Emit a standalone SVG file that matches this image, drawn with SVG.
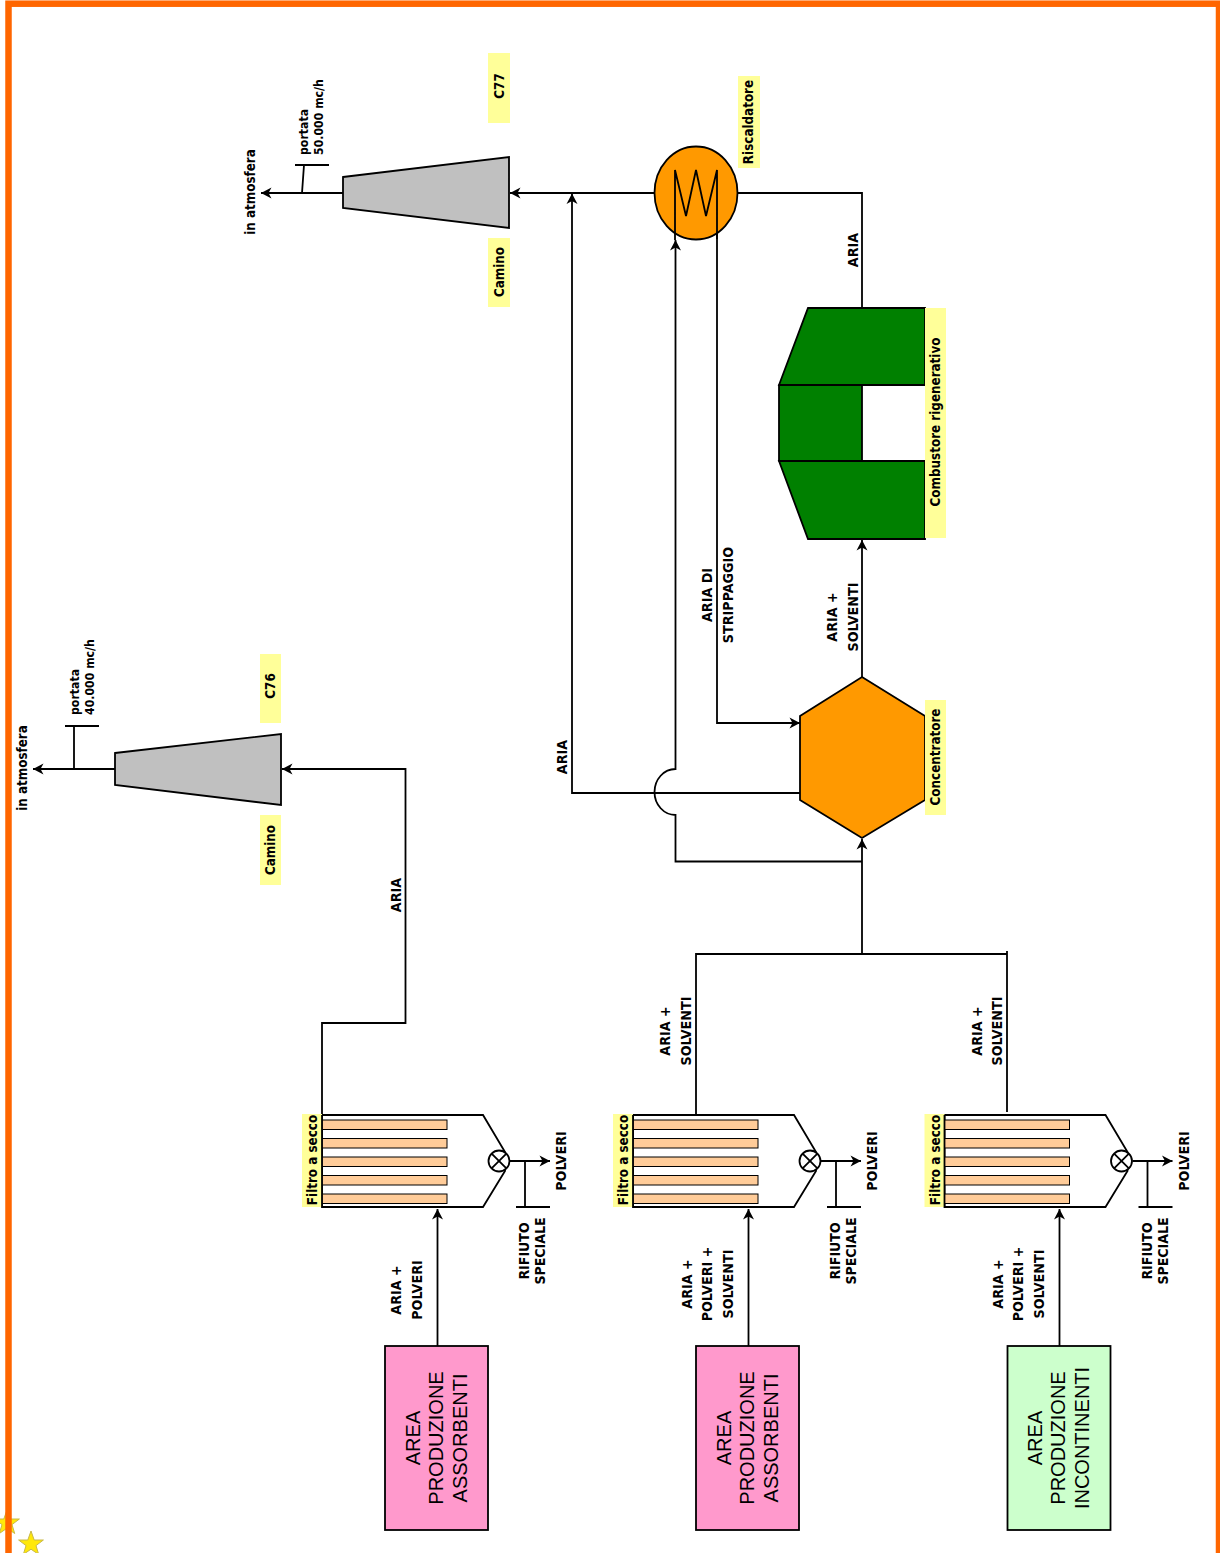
<svg xmlns="http://www.w3.org/2000/svg" xmlns:xlink="http://www.w3.org/1999/xlink" width="1220" height="1553" viewBox="0 0 1220 1553">
<style>
.l{fill:none;stroke:#000;stroke-width:1.8}
.a{marker-end:url(#arr)}
.s{stroke:#000;stroke-width:1.8}
.y{fill:#ffff99}
text{font-family:"DejaVu Sans Condensed","DejaVu Sans",sans-serif;font-weight:bold;font-size:13.300px;fill:#000;text-anchor:middle}
text.b{font-family:"Liberation Sans",Arial,sans-serif;font-weight:normal;font-size:20px}
text.u{font-size:14.200px}
text.p{font-size:12.200px;text-anchor:start}
text.r{font-size:14px}
</style>
<defs>
<marker id="arr" markerUnits="userSpaceOnUse" markerWidth="14" markerHeight="14" refX="12" refY="7" orient="auto">
<path d="M1.500 1.500L12 7L1.500 12.500L4.500 7Z" fill="#000"/>
</marker>
<polygon id="star" points="0,-13 3.200,-4 12.400,-4 5,1.600 7.700,10.500 0,5.200 -7.700,10.500 -5,1.600 -12.400,-4 -3.200,-4" fill="#ffe80a" stroke="#c8b84a" stroke-width="1"/>
<g id="filter">
<path class="s" d="M322 1115H483L505 1152V1171L483 1207H322Z" fill="#fff"/>
<g fill="#ffcc99" stroke="#000" stroke-width="1">
<rect x="322" y="1120" width="125" height="9.500"/>
<rect x="322" y="1138.500" width="125" height="9.500"/>
<rect x="322" y="1157" width="125" height="9.500"/>
<rect x="322" y="1175.500" width="125" height="9.500"/>
<rect x="322" y="1194" width="125" height="9.500"/>
</g>
<circle class="s" cx="499" cy="1161" r="10.500" fill="#fff"/>
<path class="l" d="M491.600 1153.600L506.400 1168.400M491.600 1168.400L506.400 1153.600"/>
<rect class="y" x="302" y="1114" width="20" height="93"/>
<text transform="translate(317,1160) rotate(-90)">Filtro a secco</text>
<line class="l" x1="322" y1="1115" x2="322" y2="1207"/>
<path class="l a" d="M510 1161H550"/>
<path class="l" d="M525 1161V1207M516 1207H550"/>
<text class="r" transform="translate(529,1251) rotate(-90)">RIFIUTO</text>
<text class="r" transform="translate(545,1251) rotate(-90)">SPECIALE</text>
<text class="u" transform="translate(566,1161) rotate(-90)">POLVERI</text>
</g>
</defs>
<g id="stars">
<use xlink:href="#star" href="#star" x="7" y="1523"/>
<use xlink:href="#star" href="#star" x="31" y="1544"/>
</g>
<rect id="frame" x="8.500" y="3.700" width="1210.500" height="1600" fill="none" stroke="#ff6600" stroke-width="6.500"/>

<g id="connectors">
<path class="l a" d="M437.500 1346V1209"/>
<path class="l a" d="M748.500 1346V1209"/>
<path class="l a" d="M1059.500 1346V1209"/>
<path class="l a" d="M322 1115V1023H405.500V769H282"/>
<path class="l a" d="M115 769H33"/>
<path class="l" d="M74 769V726M65 726H99"/>
<path class="l a" d="M654 193H510"/>
<path class="l a" d="M343 193H261"/>
<path class="l" d="M302 193L304 165M295 165H329"/>
<path class="l" d="M696 1115V954H1007V1112M1007 954V951"/>
<path class="l a" d="M862 954V839"/>
<path class="l a" d="M862 861.500H675.500V815A21 23 0 0 1 675.500 769V240"/>
<path class="l a" d="M800 793H572V193.500"/>
<path class="l a" d="M862 677V540"/>
<path class="l a" d="M717 170V723H800"/>
<path class="l" d="M738 193H862V308"/>
</g>

<g id="area1"><rect class="s" x="385" y="1346" width="103" height="184" fill="#ff99cc"/>
<text class="b" transform="translate(420,1438) rotate(-90)">AREA</text>
<text class="b" transform="translate(443,1438) rotate(-90)">PRODUZIONE</text>
<text class="b" transform="translate(467,1438) rotate(-90)">ASSORBENTI</text></g>
<g id="area2"><rect class="s" x="696" y="1346" width="103" height="184" fill="#ff99cc"/>
<text class="b" transform="translate(731,1438) rotate(-90)">AREA</text>
<text class="b" transform="translate(754,1438) rotate(-90)">PRODUZIONE</text>
<text class="b" transform="translate(778,1438) rotate(-90)">ASSORBENTI</text></g>
<g id="area3"><rect class="s" x="1007.500" y="1346" width="103" height="184" fill="#ccffcc"/>
<text class="b" transform="translate(1042,1438) rotate(-90)">AREA</text>
<text class="b" transform="translate(1065,1438) rotate(-90)">PRODUZIONE</text>
<text class="b" transform="translate(1089,1438) rotate(-90)">INCONTINENTI</text></g>

<g id="filter1"><use xlink:href="#filter" href="#filter"/></g>
<g id="filter2"><use xlink:href="#filter" href="#filter" x="311"/></g>
<g id="filter3"><use xlink:href="#filter" href="#filter" x="622.500"/></g>

<g id="camino76">
<polygon class="s" points="115,753 281,734 281,805 115,785" fill="#c0c0c0"/>
<rect class="y" x="260" y="654" width="21" height="69"/>
<text transform="translate(275,686) rotate(-90)">C76</text>
<rect class="y" x="260" y="815" width="21" height="70"/>
<text transform="translate(275,850) rotate(-90)">Camino</text>
<text class="p" transform="translate(79,715) rotate(-90)">portata</text>
<text class="p" transform="translate(94,715) rotate(-90)">40.000 mc/h</text>
<text transform="translate(27,768) rotate(-90)">in atmosfera</text>
</g>
<g id="camino77">
<polygon class="s" points="343,177 509,157 509,228 343,208" fill="#c0c0c0"/>
<rect class="y" x="488" y="53" width="22" height="70"/>
<text transform="translate(504,86) rotate(-90)">C77</text>
<rect class="y" x="488" y="238" width="22" height="69"/>
<text transform="translate(504,272) rotate(-90)">Camino</text>
<text class="p" transform="translate(308,155) rotate(-90)">portata</text>
<text class="p" transform="translate(323,155) rotate(-90)">50.000 mc/h</text>
<text transform="translate(255,192) rotate(-90)">in atmosfera</text>
</g>
<g id="riscaldatore">
<ellipse class="s" cx="696" cy="193" rx="41.500" ry="46.500" fill="#ff9900"/>
<path class="l" d="M675 240V170L686 216L696 170L706 216L717 170V239"/>
<rect class="y" x="738" y="76" width="22" height="92"/>
<text transform="translate(753,122) rotate(-90)">Riscaldatore</text>
</g>
<g id="combustore">
<path class="s" d="M808 308H925V385H779ZM779 385H862V461H779ZM779 461H925V539H808Z" fill="#008000"/>
<rect class="y" x="925" y="308" width="21" height="230"/>
<text transform="translate(940,422) rotate(-90)">Combustore rigenerativo</text>
</g>
<g id="concentratore">
<polygon class="s" points="862,677 925,716 925,800 862,838 800,800 800,716" fill="#ff9900"/>
<rect class="y" x="925" y="700" width="21" height="115"/>
<text transform="translate(940,757) rotate(-90)">Concentratore</text>
</g>

<g id="labels">
<text class="u" transform="translate(401,1290) rotate(-90)">ARIA +</text>
<text class="u" transform="translate(422,1290) rotate(-90)">POLVERI</text>
<text class="u" transform="translate(692,1284) rotate(-90)">ARIA +</text>
<text class="u" transform="translate(712,1284) rotate(-90)">POLVERI +</text>
<text class="u" transform="translate(733,1284) rotate(-90)">SOLVENTI</text>
<text class="u" transform="translate(1003,1284) rotate(-90)">ARIA +</text>
<text class="u" transform="translate(1023,1284) rotate(-90)">POLVERI +</text>
<text class="u" transform="translate(1044,1284) rotate(-90)">SOLVENTI</text>
<text class="u" transform="translate(670,1031) rotate(-90)">ARIA +</text>
<text class="u" transform="translate(691,1031) rotate(-90)">SOLVENTI</text>
<text class="u" transform="translate(982,1031) rotate(-90)">ARIA +</text>
<text class="u" transform="translate(1002,1031) rotate(-90)">SOLVENTI</text>
<text class="u" transform="translate(401,895) rotate(-90)">ARIA</text>
<text class="u" transform="translate(567,757) rotate(-90)">ARIA</text>
<text class="u" transform="translate(858,250) rotate(-90)">ARIA</text>
<text class="u" transform="translate(837,617) rotate(-90)">ARIA +</text>
<text class="u" transform="translate(858,617) rotate(-90)">SOLVENTI</text>
<text class="u" transform="translate(712,595) rotate(-90)">ARIA DI</text>
<text class="u" transform="translate(733,595) rotate(-90)">STRIPPAGGIO</text>
</g>
</svg>
